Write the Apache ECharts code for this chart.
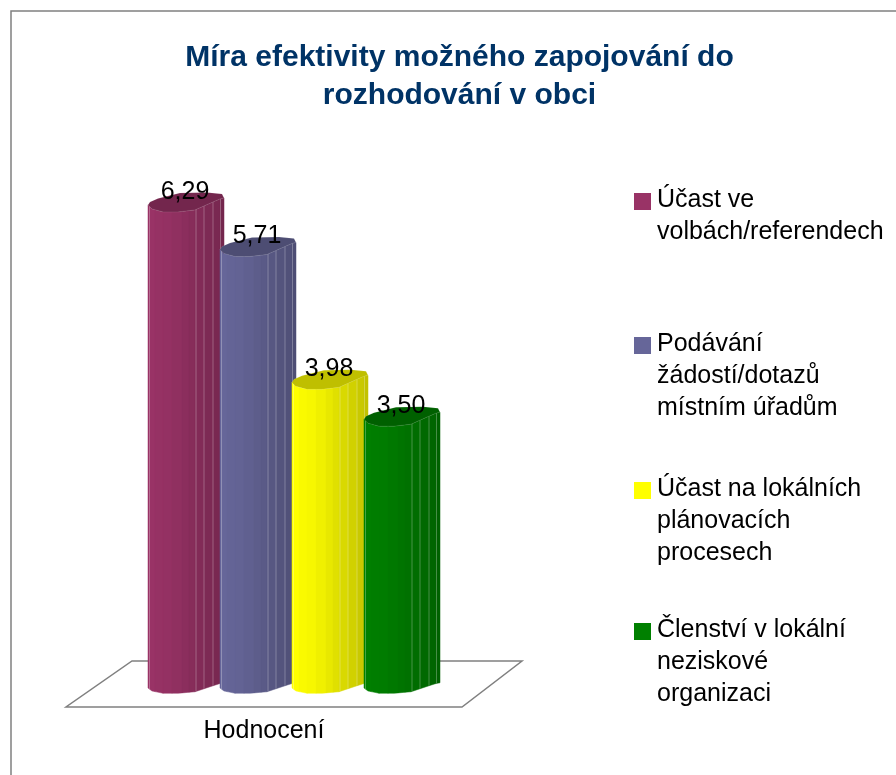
<!DOCTYPE html>
<html lang="cs">
  <head>
    <meta charset="UTF-8" />
    <title>Míra efektivity</title>
    <script src="https://cdn.jsdelivr.net/npm/echarts@6/dist/echarts.min.js"></script>
    <style>
      html, body { margin: 0; background: #fff; }
      #chart { width: 896px; height: 775px; }
    </style>
  </head>
  <body>
    <div id="chart"></div>
    <script>
      var categories = ["Hodnocení"];
      var seriesNames = [
        "Účast ve\nvolbách/referendech",
        "Podávání\nžádostí/dotazů\nmístním úřadům",
        "Účast na lokálních\nplánovacích\nprocesech",
        "Členství v lokální\nneziskové\norganizaci",
      ];
      var seriesValues = [6.29, 5.71, 3.98, 3.5];
      var seriesColors = ["#993366", "#666699", "#ffff00", "#008000"];

      // shape of the fake 3d column, in px from the column's left edge
      var barStep = 72;
      var frontX = [0, 4, 15, 30, 47, 56, 65, 72, 76];
      var frontY = [0, 4, 7, 7, 5, 1, -3, -6, -7];
      var capBackX = [76, 74, 59, 32, 10, 2, 0];
      var capBackY = [-7, -11, -12.5, -12, -6.5, -3, 0];
      var stripX = [0, 7, 15, 24, 34, 41, 47, 56, 65, 72, 76];
      var stripShade = [0, 0.02, 0.03, 0.06, 0.09, 0.12, 0.15, 0.18, 0.21, 0.24, 0.27];
      var lineX = [1.5, 48, 56, 65, 72.5];

      function shade(hex, amount) {
        var n = parseInt(hex.slice(1), 16);
        var k = 1 - amount;
        return (
          "rgb(" +
          Math.round((n >> 16) * k) + "," +
          Math.round(((n >> 8) & 255) * k) + "," +
          Math.round((n & 255) * k) + ")"
        );
      }

      // y offset of the front edge at distance x from the left side
      function frontAt(x) {
        for (var i = 1; i < frontX.length; i++) {
          if (x <= frontX[i]) {
            var t = (x - frontX[i - 1]) / (frontX[i] - frontX[i - 1]);
            return frontY[i - 1] + t * (frontY[i] - frontY[i - 1]);
          }
        }
        return frontY[frontY.length - 1];
      }

      function renderBar(idx) {
        return function (params, api) {
          var center = api.coord([api.value(0), 0])[0];
          var base = api.coord([api.value(0), 0])[1];
          var top = api.coord([api.value(0), api.value(1)])[1];
          var left = center - 116 + idx * barStep;
          var color = seriesColors[idx];
          var children = [];

          for (var i = 0; i < stripX.length - 1; i++) {
            var pts = [];
            var a = stripX[i];
            var b = stripX[i + 1];
            var xs = [a].concat(frontX.filter(function (x) { return x > a && x < b; }), [b]);
            xs.forEach(function (x) { pts.push([left + x, top + frontAt(x)]); });
            xs.slice().reverse().forEach(function (x) { pts.push([left + x, base + frontAt(x) * 0.75]); });
            children.push({
              type: "polygon",
              shape: { points: pts },
              style: { fill: shade(color, stripShade[i]), stroke: shade(color, stripShade[i]), lineWidth: 0.5 },
            });
          }

          lineX.forEach(function (x) {
            children.push({
              type: "line",
              shape: { x1: left + x, y1: top + frontAt(x), x2: left + x, y2: base + frontAt(x) * 0.75 },
              style: { stroke: "rgba(255,255,255,0.28)", lineWidth: 1 },
            });
          });

          var cap = [];
          frontX.forEach(function (x, i) { cap.push([left + x, top + frontY[i]]); });
          capBackX.forEach(function (x, i) { cap.push([left + x, top + capBackY[i]]); });
          children.push({
            type: "polygon",
            shape: { points: cap },
            style: { fill: shade(color, 0.25), stroke: "rgba(255,255,255,0.2)", lineWidth: 0.5 },
          });

          children.push({
            type: "text",
            style: {
              x: left + 37,
              y: top - 13,
              text: api.value(1).toFixed(2).replace(".", ","),
              align: "center",
              verticalAlign: "middle",
              fill: "#000",
              font: "25px 'Liberation Sans'",
            },
          });
          return { type: "group", children: children };
        };
      }

      function renderFloor(params) {
        var c = params.coordSys;
        var base = c.y + c.height;
        return {
          type: "polygon",
          shape: {
            points: [
              [c.x, base + 19],
              [c.x + c.width, base + 19],
              [c.x + c.width + 60, base - 27],
              [c.x + 66, base - 27],
            ],
          },
          style: { fill: "#fff", stroke: "#808080", lineWidth: 1.5 },
        };
      }

      // icon sits on the first text line, so the path is padded to the block height
      function legendIcon(h) {
        return "path://M0,0L0,0M0,9H17V26H0ZM0," + h + "L0," + h;
      }
      var legendTop = [184, 328, 473, 614];
      var legends = seriesNames.map(function (name, i) {
        var h = name.split("\n").length * 32;
        return {
          left: 634,
          top: legendTop[i],
          orient: "vertical",
          data: [name],
          selectedMode: false,
          icon: legendIcon(h),
          itemWidth: 17,
          itemHeight: h,
          itemGap: 0,
          padding: 0,
          textStyle: {
            fontFamily: "Liberation Sans",
            fontSize: 25,
            lineHeight: 32,
            color: "#000",
            padding: [0, 0, 0, 1],
          },
        };
      });

      var series = [
        {
          type: "custom",
          name: "floor",
          silent: true,
          renderItem: renderFloor,
          data: [[0, 0]],
          z: 1,
        },
      ];
      seriesNames.forEach(function (name, i) {
        series.push({
          type: "custom",
          name: name,
          renderItem: renderBar(i),
          encode: { x: 0, y: 1 },
          data: [[0, seriesValues[i]]],
          itemStyle: { color: seriesColors[i] },
          z: 2 + i,
        });
      });

      var chart = echarts.init(document.getElementById("chart"));
      chart.setOption({
        animation: false,
        backgroundColor: "#fff",
        title: {
          text: "Míra efektivity možného zapojování do\nrozhodování v obci",
          left: 459.5,
          top: 39,
          padding: 0,
          textAlign: "center",
          textStyle: {
            fontFamily: "Liberation Sans",
            fontWeight: "bold",
            fontSize: 30,
            lineHeight: 38,
            color: "#003366",
          },
        },
        grid: { left: 66, width: 396, top: 150.4, bottom: 87 },
        xAxis: {
          type: "category",
          data: categories,
          axisLine: { show: false },
          axisTick: { show: false },
          axisLabel: {
            margin: 31,
            color: "#000",
            fontFamily: "Liberation Sans",
            fontSize: 25,
          },
        },
        yAxis: { type: "value", min: 0, max: 7, show: false },
        legend: legends,
        graphic: [
          {
            type: "rect",
            shape: { x: 11, y: 11, width: 1000, height: 1000 },
            style: { fill: "none", stroke: "#808080", lineWidth: 1.5 },
            silent: true,
            z: 0,
          },
        ],
        series: series,
      });
    </script>
  </body>
</html>
